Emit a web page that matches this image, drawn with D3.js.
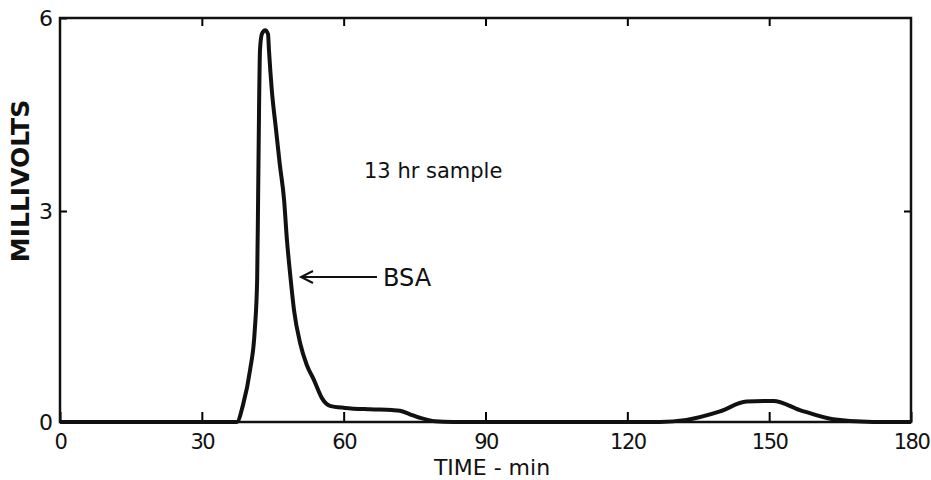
<!DOCTYPE html>
<html>
<head>
<meta charset="utf-8">
<script src="https://cdn.jsdelivr.net/npm/d3@7"></script>
<style>
  body { margin: 0; background: #fff; }
  text { font-family: "DejaVu Sans", sans-serif; fill: #111; }
</style>
</head>
<body>
<div id="chart"></div>
<script>
// trace (time in min, signal in mV)
const times = [0, 37.4, 38.7, 40.2, 41.2, 41.7, 41.9, 42.1, 42.3, 42.7, 43.4, 44.0, 44.2, 44.8, 45.7,
  46.5, 47.4, 48.0, 48.7, 49.5, 50.8, 52.2, 53.7, 55.4, 57.1, 60.3, 65.6, 70.2, 71.9, 74.0, 76.1,
  79.3, 83.1, 126.9, 132.5, 139.6, 145.2, 150.9, 156.5, 163.5, 172, 180];
const millivolts = [0, 0, 0.24, 0.74, 1.31, 2.02, 3.17, 4.57, 5.5, 5.75, 5.81, 5.75, 5.5, 4.88, 4.26,
  3.72, 3.17, 2.59, 2.09, 1.59, 1.12, 0.81, 0.6, 0.34, 0.23, 0.2, 0.18, 0.17, 0.16, 0.11, 0.06,
  0.01, 0, 0, 0.03, 0.15, 0.29, 0.3, 0.17, 0.04, 0, 0];
const xTicks = [0, 30, 60, 90, 120, 150, 180];
const yTicks = [0, 3, 6];

const width = 931, height = 480;
const mLeft = 60, mRight = 911, mTop = 18, mBottom = 422;

const svg = d3.select("#chart").append("svg")
  .attr("width", width).attr("height", height);

const x = d3.scaleLinear().domain([0, 180]).range([mLeft, mRight]);
// the paper scale is not quite even: 3 mV sits a little above mid-height
const y = d3.scaleLinear().domain([0, 3, 6]).range([mBottom, 211, mTop]);

const data = times.map((t, i) => ({t: t, v: millivolts[i]}));

// bottom axis, ticks pointing inward
const gx = svg.append("g")
  .attr("transform", `translate(0,${mBottom})`)
  .call(d3.axisBottom(x).tickValues(xTicks).tickSize(-10).tickPadding(12).tickFormat(d3.format("d")));
gx.select(".domain").remove();
gx.selectAll("text").style("font-size", "21px").style("letter-spacing", "-1.5px");
gx.selectAll("line").attr("stroke-width", 2);

// top ticks
const gt = svg.append("g")
  .attr("transform", `translate(0,${mTop})`)
  .call(d3.axisTop(x).tickValues(xTicks.slice(1, -1)).tickSize(-8).tickFormat(""));
gt.select(".domain").remove();
gt.selectAll("line").attr("stroke-width", 2);

const gy = svg.append("g")
  .attr("transform", `translate(${mLeft},0)`)
  .call(d3.axisLeft(y).tickValues(yTicks).tickSize(-7).tickPadding(7).tickFormat(d3.format("d")));
gy.select(".domain").remove();
gy.selectAll("text").style("font-size", "22px");
gy.selectAll("line").attr("stroke-width", 2);

const gr = svg.append("g")
  .attr("transform", `translate(${mRight},0)`)
  .call(d3.axisRight(y).tickValues([3]).tickSize(-7).tickFormat(""));
gr.select(".domain").remove();
gr.selectAll("line").attr("stroke-width", 2);

svg.append("rect")
  .attr("x", mLeft).attr("y", mTop)
  .attr("width", mRight - mLeft).attr("height", mBottom - mTop)
  .attr("fill", "none").attr("stroke", "#111").attr("stroke-width", 2.5);

const line = d3.line()
  .x(d => x(d.t))
  .y(d => y(d.v))
  .curve(d3.curveMonotoneX);

svg.append("path")
  .datum(data)
  .attr("fill", "none")
  .attr("stroke", "#111")
  .attr("stroke-width", 4)
  .attr("stroke-linejoin", "round")
  .attr("d", line);

// axis titles
svg.append("text")
  .attr("transform", "translate(29,181) rotate(-90)")
  .attr("text-anchor", "middle")
  .style("font-size", "25px").style("font-weight", "bold")
  .text("MILLIVOLTS");

svg.append("text")
  .attr("x", 492).attr("y", 475)
  .attr("text-anchor", "middle")
  .style("font-size", "22px")
  .text("TIME - min");

// annotations
svg.append("text")
  .attr("x", 364).attr("y", 178)
  .style("font-size", "21px")
  .text("13 hr sample");

svg.append("text")
  .attr("x", 383).attr("y", 286)
  .style("font-size", "24px")
  .text("BSA");

svg.append("line")
  .attr("x1", 377).attr("y1", 277).attr("x2", 301).attr("y2", 277)
  .attr("stroke", "#111").attr("stroke-width", 2);
svg.append("path")
  .attr("d", "M313,271 L301,277 L313,283")
  .attr("fill", "none").attr("stroke", "#111").attr("stroke-width", 2);
</script>
</body>
</html>
